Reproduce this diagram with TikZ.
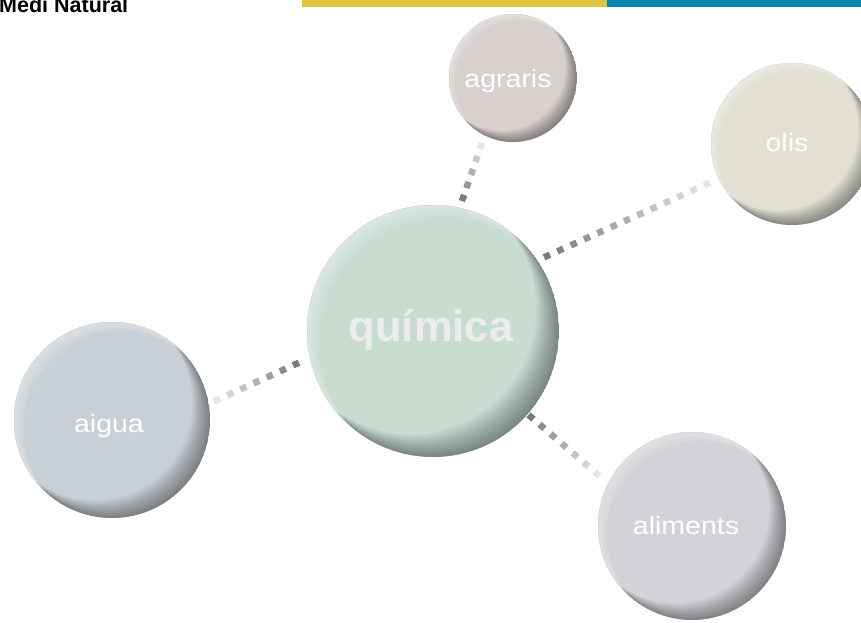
\documentclass[tikz,border=0pt]{standalone}
\usepackage{fontspec}
\setmainfont{Liberation Sans}
\usetikzlibrary{calc}
\definecolor{barY}{HTML}{DFC53C}
\definecolor{barB}{HTML}{0A87AE}
\definecolor{toneQ}{HTML}{C8DCD2}
\definecolor{toneA}{HTML}{D8D0CE}
\definecolor{toneO}{HTML}{E1E0D2}
\definecolor{toneW}{HTML}{C8D0D6}
\definecolor{toneL}{HTML}{D4D2D7}
\definecolor{qtext}{HTML}{ECECEC}
\tikzset{
  ballnode/.style 2 args={circle, inner sep=0pt, minimum size=2*#2pt, fill=#1,
    path picture={
      \foreach \f in {0.01,0.02,...,0.185}{
        \fill[black, opacity=0.022, even odd rule]
          (path picture bounding box.center) circle (#2pt)
          ++(-\f*#2pt, \f*#2pt) circle (#2pt);}
      \foreach \f in {0.01,0.02,...,0.105}{
        \fill[white, opacity=0.05, even odd rule]
          (path picture bounding box.center) circle (#2pt)
          ++(\f*#2pt, -\f*#2pt) circle (#2pt);}
    }},
  lbl/.style={text=white, inner sep=0pt, anchor=base, font=\fontsize{25}{30}\selectfont},
  sqdot/.style={minimum size=6.5pt, inner sep=0pt, draw=none},
}
\newcommand\sqchain[4]{%
  \pgfmathtruncatemacro\sqlast{#3-1}%
  \foreach \i in {0,...,\sqlast}{%
    \pgfmathsetmacro\sqg{52-42*\i/\sqlast}%
    \node[sqdot, rotate=#4, fill=black!\sqg] at ($(#1)!\i/\sqlast!(#2)$) {};
  }}
\begin{document}
\begin{tikzpicture}[x=1pt,y=1pt]
\useasboundingbox (0,0) rectangle (861,623);
\clip (0,0) rectangle (861,623);
\fill[white] (0,0) rectangle (861,623);
% top bars
\fill[barY] (302,616) rectangle (607,623);
\fill[barB] (607,616) rectangle (861,623);
\node[anchor=base west, inner sep=0pt, font=\fontsize{21.5}{24}\selectfont\bfseries] (title) at (-1,610) {Medi Natural};
% balls
\node[ballnode={toneQ}{126}] (q) at (433,292) {};
\node[ballnode={toneA}{64}] (agr) at (513,545) {};
\node[ballnode={toneO}{81}] (oli) at (792,479) {};
\node[ballnode={toneW}{98}] (aig) at (112,203) {};
\node[ballnode={toneL}{94}] (ali) at (692,97) {};
% labels
\node[lbl, text=qtext, font=\fontsize{43.5}{50}\selectfont\bfseries] (tq) at ($(q.center)+(-2,-11)$) {química};
\node[lbl] (ta) at ($(agr.center)+(-5,-10)$) {\scalebox{1.14}[1]{agraris}};
\node[lbl] (to) at ($(oli.center)+(-5,-8)$) {\scalebox{1.14}[1]{olis}};
\node[lbl] (tw) at ($(aig.center)+(-3,-13)$) {\scalebox{1.14}[1]{aigua}};
\node[lbl] (tl) at ($(ali.center)+(-6,-9)$) {\scalebox{1.14}[1]{aliments}};
% connector end points
\coordinate (c1s) at ($(q.center)+(30,133)$);
\coordinate (c1e) at ($(agr.center)+(-32,-68)$);
\coordinate (c2s) at ($(q.center)+(114,75)$);
\coordinate (c2e) at ($(oli.center)+(-85,-40)$);
\coordinate (c3s) at ($(q.center)+(-137,-33)$);
\coordinate (c3e) at ($(aig.center)+(105,20)$);
\coordinate (c4s) at ($(q.center)+(98,-86)$);
\coordinate (c4e) at ($(ali.center)+(-95,52)$);
\sqchain{c1s}{c1e}{5}{71}
\sqchain{c2s}{c2e}{13}{24}
\sqchain{c3s}{c3e}{7}{24}
\sqchain{c4s}{c4e}{7}{-41}
\end{tikzpicture}
\end{document}
